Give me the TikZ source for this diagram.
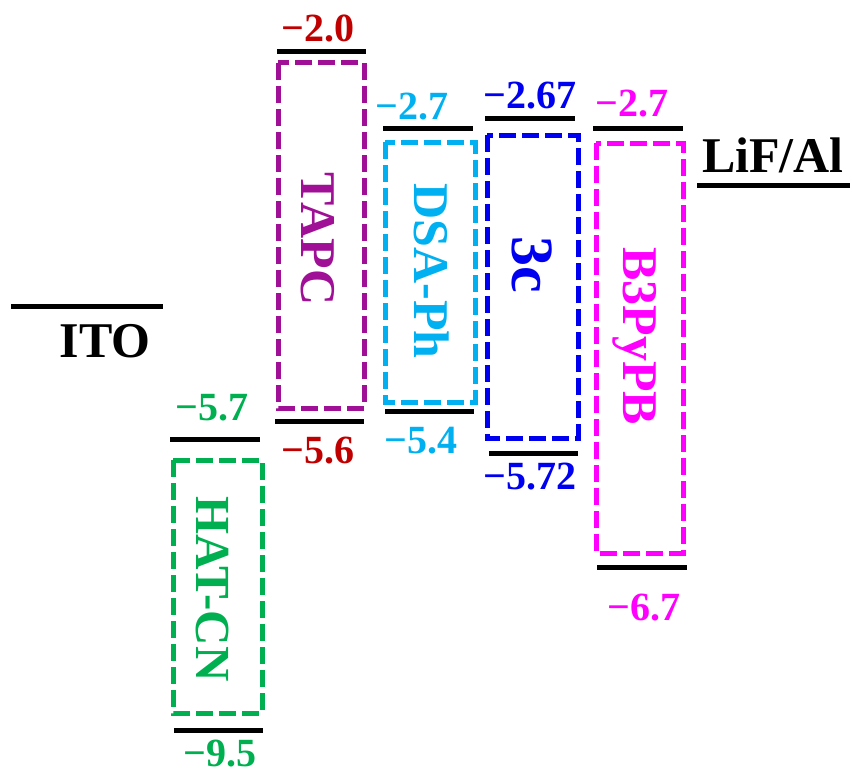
\documentclass[tikz,border=0pt]{standalone}
\usepackage{fontspec}
\setmainfont{Liberation Serif}
\definecolor{cgreen}{RGB}{0,176,80}
\definecolor{cpurple}{RGB}{160,16,150}
\definecolor{cred}{RGB}{192,0,0}
\definecolor{ccyan}{RGB}{0,176,240}
\definecolor{cblue}{RGB}{0,0,240}
\definecolor{cmag}{RGB}{255,0,255}
\begin{document}
\begin{tikzpicture}[x=1pt,y=-1pt,
  level/.style={line width=5pt, black},
  layer/.style={draw, line width=5pt, dash pattern=on 17pt off 6pt},
  num/.style={font=\fontsize{40}{48}\selectfont\bfseries, inner sep=0pt, text depth=0pt},
  mat/.style={font=\fontsize{50}{60}\selectfont\bfseries, inner sep=0pt, rotate=-90, text depth=0pt},
  elec/.style={font=\fontsize{50}{60}\selectfont\bfseries, inner sep=0pt, text depth=0pt}
]
\useasboundingbox (0,0) rectangle (852,776);

% ITO
\draw[level] (11,306) -- (163,306);
\node[elec] (ito) at (105,341) {ITO};

% HAT-CN
\draw[level] (170,439) -- (260,439);
\draw[layer, cgreen] (173,460) rectangle (262,713);
\draw[level] (174,730) -- (263,730);
\node[num, cgreen] (hatH) at (212,407) {−5.7};
\node[num, cgreen] (hatL) at (220,753) {−9.5};
\node[mat, cgreen, font=\fontsize{49}{58}\selectfont\bfseries] (hat) at (213,589) {HAT-CN};

% TAPC
\draw[level] (277,52) -- (366,52);
\draw[layer, cpurple] (278,63) rectangle (364,408);
\draw[level] (275,421) -- (364,421);
\node[num, cred] (tapcL) at (318,28) {−2.0};
\node[num, cred] (tapcH) at (318,450) {−5.6};
\node[mat, cpurple] (tapc) at (318,239) {TAPC};

% DSA-Ph
\draw[level] (383,128) -- (473,128);
\draw[layer, ccyan] (385,142) rectangle (475,402);
\draw[level] (385,411) -- (474,411);
\node[num, ccyan] (dsaL) at (412,106) {−2.7};
\node[num, ccyan] (dsaH) at (421,440) {−5.4};
\node[mat, ccyan] (dsa) at (432,271) {DSA-Ph};

% 3c
\draw[level] (485,118) -- (575,118);
\draw[layer, cblue] (487,135) rectangle (578,438);
\draw[level] (489,453) -- (578,453);
\node[num, cblue] (cL) at (530,95) {−2.67};
\node[num, cblue] (cH) at (530,476) {−5.72};
\node[mat, cblue, font=\fontsize{60}{72}\selectfont\bfseries] (c3) at (532,265) {3c};

% B3PyPB
\draw[level] (593,128) -- (683,128);
\draw[layer, cmag] (596,143) rectangle (683,553);
\draw[level] (597,567) -- (687,567);
\node[num, cmag] (bL) at (632,103) {−2.7};
\node[num, cmag] (bH) at (644,607) {−6.7};
\node[mat, cmag] (b3) at (640,336) {B3PyPB};

% LiF/Al
\node[elec, anchor=base] (lif) at (773,172) {LiF/Al};
\draw[level] (697,185) -- (850,185);
\end{tikzpicture}
\end{document}
